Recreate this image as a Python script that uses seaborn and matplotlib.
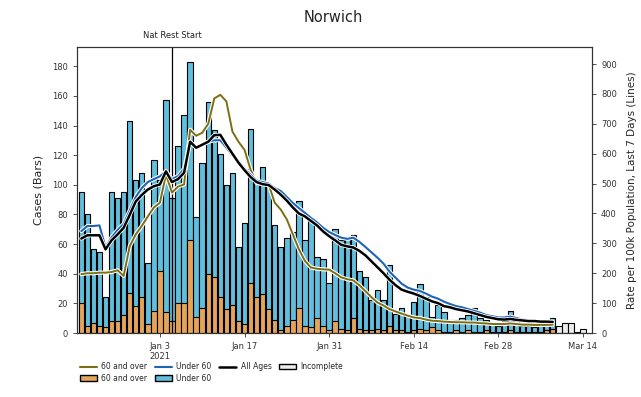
import numpy as np
import pandas as pd
import matplotlib
matplotlib.use("Agg")
import matplotlib.pyplot as plt
import matplotlib.dates as mdates
import matplotlib.patheffects as pe
from matplotlib.patches import Patch
from matplotlib.lines import Line2D
import seaborn as sns

# ---- data ----
start_date = "2020-12-21"
total_cases = [95, 80, 57, 55, 24, 95, 91, 95, 143, 103, 108, 47, 117, 103, 157, 91, 126, 147, 183, 78,
               115, 156, 137, 121, 100, 108, 58, 74, 138, 101, 112, 100, 73, 58, 64, 68, 89, 63, 76, 51,
               50, 34, 70, 63, 65, 66, 42, 38, 22, 29, 22, 46, 13, 17, 12, 21, 33, 24, 11, 19,
               14, 9, 9, 10, 12, 17, 10, 9, 6, 5, 8, 15, 8, 5, 5, 4, 5, 6, 10]
cases_60_over = [20, 5, 7, 5, 4, 8, 8, 12, 27, 18, 24, 6, 15, 42, 14, 8, 20, 20, 63, 11,
                 17, 40, 38, 24, 16, 19, 8, 6, 34, 24, 26, 16, 9, 2, 5, 9, 17, 5, 4, 10,
                 5, 2, 8, 3, 2, 10, 3, 2, 2, 3, 2, 5, 2, 2, 1, 2, 3, 2, 4, 2,
                 1, 1, 2, 1, 2, 1, 1, 2, 1, 1, 1, 2, 1, 1, 1, 1, 1, 2, 3]
incomplete_start = "2021-03-10"
incomplete_cases = [5, 7, 7, 1, 3]

rate_under_60 = [341, 358, 358, 360, 286, 320, 345, 365, 410, 455, 485, 505, 515, 524, 541, 515, 525, 550, 640, 620,
                 630, 640, 645, 645, 620, 595, 575, 550, 530, 510, 505, 500, 485, 475, 455, 435, 418, 402, 385, 370,
                 352, 338, 328, 319, 315, 319, 305, 288, 270, 252, 232, 205, 185, 165, 152, 145, 141, 132, 122, 115,
                 105, 97, 90, 86, 80, 74, 68, 60, 56, 52, 52, 55, 50, 45, 42, 40, 40, 38, 38]
rate_all_ages = [316, 327, 327, 327, 280, 310, 330, 352, 395, 440, 462, 480, 491, 497, 541, 505, 515, 536, 640, 620,
                 630, 640, 662, 663, 630, 600, 570, 545, 522, 505, 498, 495, 480, 463, 443, 420, 400, 390, 375, 360,
                 340, 324, 310, 295, 290, 286, 275, 260, 240, 220, 200, 178, 160, 145, 138, 132, 124, 115, 106, 100,
                 90, 86, 80, 76, 72, 66, 60, 54, 50, 46, 45, 47, 44, 42, 40, 40, 38, 38, 37]
rate_60_over = [197, 200, 200, 202, 202, 204, 210, 191, 290, 330, 358, 390, 420, 436, 530, 470, 490, 497, 680, 660,
                670, 700, 785, 797, 775, 674, 640, 613, 547, 502, 498, 497, 436, 413, 380, 330, 280, 241, 219, 215,
                213, 212, 200, 186, 180, 176, 160, 140, 120, 102, 92, 80, 72, 65, 58, 52, 50, 45, 41, 40,
                38, 37, 36, 36, 35, 35, 33, 32, 30, 30, 30, 32, 30, 28, 28, 27, 27, 27, 28]

tick_dates = ["2021-01-03", "2021-01-17", "2021-01-31", "2021-02-14", "2021-02-28", "2021-03-14"]
tick_labels = ["Jan 3\n2021", "Jan 17", "Jan 31", "Feb 14", "Feb 28", "Mar 14"]
event_date = "2021-01-05"
event_label = "Nat Rest Start"

# ---- build frames ----
dates = pd.date_range(start_date, periods=len(total_cases), freq="D")
x = mdates.date2num(dates)
df = pd.DataFrame({"x": x, "total": total_cases, "over60": cases_60_over,
                   "r_u60": rate_under_60, "r_all": rate_all_ages, "r_60": rate_60_over})
inc_dates = pd.date_range(incomplete_start, periods=len(incomplete_cases), freq="D")
dfi = pd.DataFrame({"x": mdates.date2num(inc_dates), "total": incomplete_cases})

c_u60_bar = "#62bedd"
c_60_bar = "#e4a55a"
c_inc = "#ececec"
c_60_line = "#7d6e14"
c_u60_line = "#1f63b8"
c_all_line = "#000000"

sns.set_theme(style="ticks")
plt.rcParams["font.family"] = ["DejaVu Sans"]

fig = plt.figure(figsize=(6.41, 3.97), dpi=100)
ax = fig.add_axes([0.120, 0.1612, 0.8036, 0.7204])

bw = 0.9
sns.barplot(x=df["x"], y=df["total"], native_scale=True, width=bw, color=c_u60_bar,
            saturation=1, edgecolor="black", linewidth=0.8, errorbar=None, ax=ax)
sns.barplot(x=df["x"], y=df["over60"], native_scale=True, width=bw, color=c_60_bar,
            saturation=1, edgecolor="black", linewidth=0.8, errorbar=None, ax=ax)
sns.barplot(x=dfi["x"], y=dfi["total"], native_scale=True, width=bw, color=c_inc,
            saturation=1, edgecolor="black", linewidth=0.8, errorbar=None, ax=ax)

ax.set_ylim(0, 193)
ax.set_yticks(range(0, 181, 20))
xmin = mdates.date2num(pd.Timestamp("2020-12-20")) + 0.27
xmax = mdates.date2num(pd.Timestamp("2021-03-15")) + 0.5
ax.set_xlim(xmin, xmax)
ax.set_xticks(mdates.date2num(pd.to_datetime(tick_dates)))
ax.set_xticklabels(tick_labels)
ax.set_xlabel("")
ax.set_ylabel("Cases (Bars)", fontsize=8, labelpad=6)

ev = mdates.date2num(pd.Timestamp(event_date))
ax.axvline(ev, color="black", lw=0.9, zorder=5)
ax.text(ev, 1.025, event_label, transform=ax.get_xaxis_transform(), ha="center", va="bottom",
        fontsize=6, color="#222222")

ax2 = ax.twinx()
halo = [pe.Stroke(linewidth=3.0, foreground="white"), pe.Normal()]
sns.lineplot(x=df["x"], y=df["r_60"], ax=ax2, color=c_60_line, lw=1.4, path_effects=halo)
sns.lineplot(x=df["x"], y=df["r_u60"], ax=ax2, color=c_u60_line, lw=1.5, path_effects=halo)
sns.lineplot(x=df["x"], y=df["r_all"], ax=ax2, color=c_all_line, lw=1.8, path_effects=halo)
ax2.set_ylim(0, 957)
ax2.set_yticks(range(0, 901, 100))
ax2.set_xlim(xmin, xmax)
ax2.set_ylabel("Rate per 100k Population, Last 7 Days (Lines)", fontsize=7.5, labelpad=7)

for a in (ax, ax2):
    a.tick_params(labelsize=6, colors="#333333", length=3, width=0.6)
    for s in a.spines.values():
        s.set_color("#333333")
        s.set_linewidth(0.8)
        s.set_visible(True)

fig.suptitle("Norwich", x=0.52, y=0.975, fontsize=10.5)

handles = [Line2D([], [], color=c_60_line, lw=1.5),
           Patch(facecolor=c_60_bar, edgecolor="black"),
           Line2D([], [], color=c_u60_line, lw=1.5),
           Patch(facecolor=c_u60_bar, edgecolor="black"),
           Line2D([], [], color=c_all_line, lw=1.8),
           Patch(facecolor=c_inc, edgecolor="black")]
labels = ["60 and over", "60 and over", "Under 60", "Under 60", "All Ages", "Incomplete"]
fig.legend(handles, labels, loc="upper left", bbox_to_anchor=(0.12, 0.095), ncol=4, frameon=False,
           fontsize=5.5, handlelength=2.2, columnspacing=1.0, handletextpad=0.6, labelspacing=0.3,
           borderaxespad=0)

fig.savefig("out.png", dpi=100)
